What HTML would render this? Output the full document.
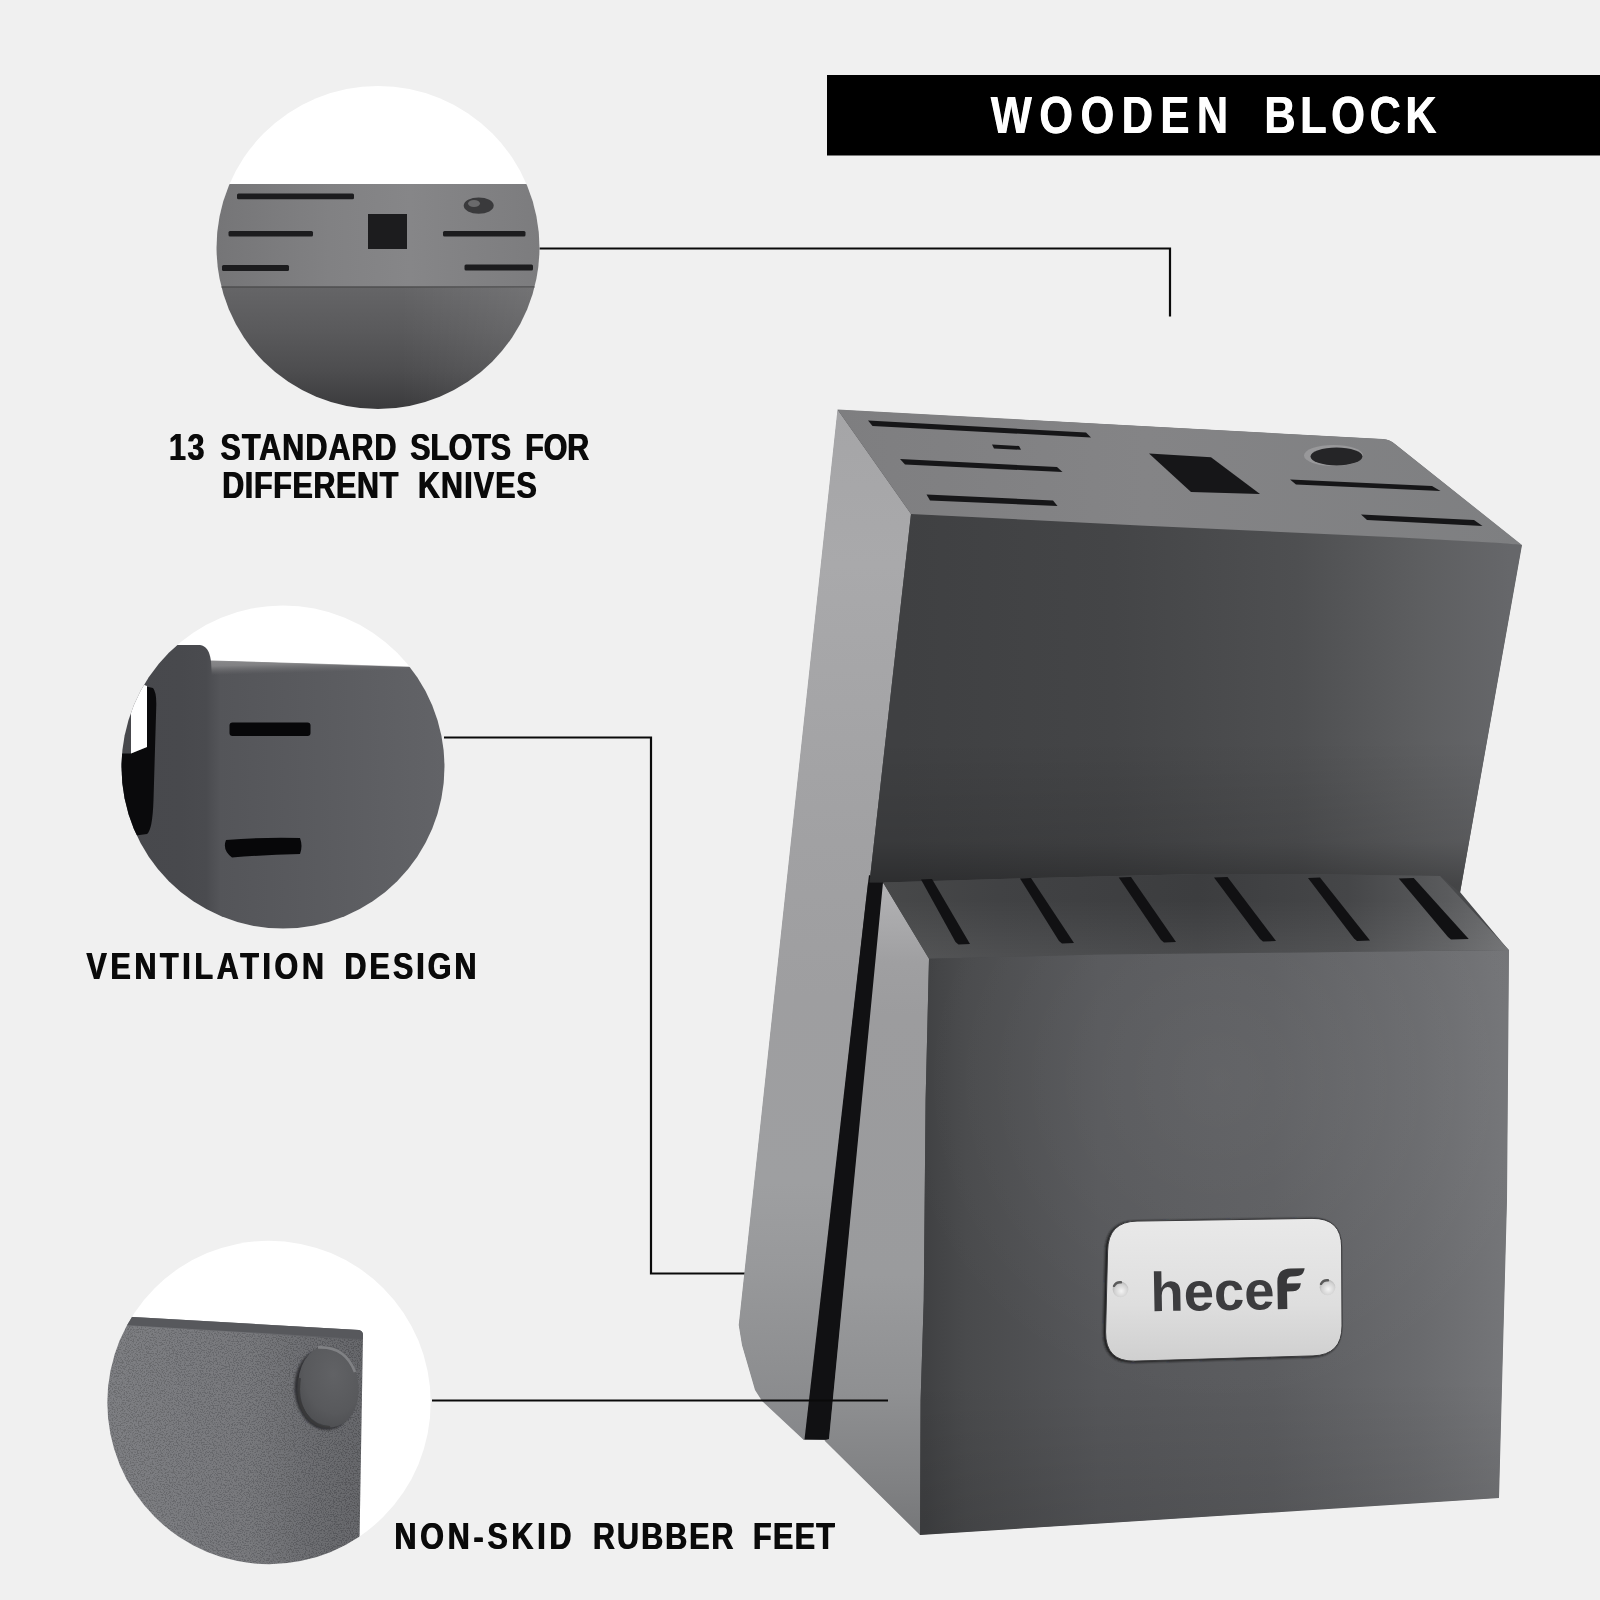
<!DOCTYPE html>
<html><head><meta charset="utf-8"><title>Wooden Block</title><style>html,body{margin:0;padding:0;background:#f0f0f0}body{width:1600px;height:1600px;overflow:hidden}</style></head><body>
<svg width="1600" height="1600" viewBox="0 0 1600 1600" style="display:block;font-family:'Liberation Sans',sans-serif;font-weight:bold">
<defs>
<linearGradient id="gLeft" gradientUnits="userSpaceOnUse" x1="0" y1="410" x2="0" y2="1440">
 <stop offset="0" stop-color="#a5a5a7"/><stop offset="0.15" stop-color="#a9a9ab"/><stop offset="0.42" stop-color="#a1a1a3"/><stop offset="0.57" stop-color="#9e9ea0"/><stop offset="0.75" stop-color="#9e9fa1"/><stop offset="0.83" stop-color="#98999b"/><stop offset="0.93" stop-color="#8e8f91"/><stop offset="1" stop-color="#86878a"/>
</linearGradient>
<linearGradient id="gLeftShade" gradientUnits="userSpaceOnUse" x1="810" y1="0" x2="912" y2="11">
 <stop offset="0" stop-color="#000" stop-opacity="0"/><stop offset="0.4" stop-color="#000" stop-opacity="0.02"/><stop offset="1" stop-color="#000" stop-opacity="0.2"/>
</linearGradient>
<linearGradient id="gFadeY" gradientUnits="userSpaceOnUse" x1="0" y1="410" x2="0" y2="900">
 <stop offset="0" stop-color="#fff"/><stop offset="0.3" stop-color="#fff" stop-opacity="0.85"/><stop offset="1" stop-color="#fff" stop-opacity="0"/>
</linearGradient>
<mask id="mFadeY" maskUnits="userSpaceOnUse" x="700" y="400" width="300" height="1100"><rect x="700" y="400" width="300" height="1100" fill="url(#gFadeY)"/></mask>
<linearGradient id="gTop" gradientUnits="userSpaceOnUse" x1="840" y1="0" x2="1520" y2="0">
 <stop offset="0" stop-color="#7e7e80"/><stop offset="0.45" stop-color="#848486"/><stop offset="1" stop-color="#7e7f81"/>
</linearGradient>
<linearGradient id="gFrontB" gradientUnits="userSpaceOnUse" x1="900" y1="0" x2="1510" y2="0">
 <stop offset="0" stop-color="#3f4042"/><stop offset="0.35" stop-color="#444547"/><stop offset="0.65" stop-color="#4e4f51"/><stop offset="0.85" stop-color="#5d5e60"/><stop offset="1" stop-color="#66676a"/>
</linearGradient>
<linearGradient id="gFrontBshade" gradientUnits="userSpaceOnUse" x1="0" y1="740" x2="0" y2="885">
 <stop offset="0" stop-color="#000" stop-opacity="0"/><stop offset="0.7" stop-color="#000" stop-opacity="0.1"/><stop offset="1" stop-color="#000" stop-opacity="0.3"/>
</linearGradient>
<linearGradient id="gTopF" gradientUnits="userSpaceOnUse" x1="885" y1="0" x2="1510" y2="0">
 <stop offset="0" stop-color="#474849"/><stop offset="0.18" stop-color="#414244"/><stop offset="0.5" stop-color="#3c3d3f"/><stop offset="0.74" stop-color="#454648"/><stop offset="0.9" stop-color="#5a5b5d"/><stop offset="1" stop-color="#6c6d6f"/>
</linearGradient>
<linearGradient id="gFrontF" gradientUnits="userSpaceOnUse" x1="925" y1="0" x2="1505" y2="0">
 <stop offset="0" stop-color="#404143"/><stop offset="0.07" stop-color="#494a4c"/><stop offset="0.3" stop-color="#555659"/><stop offset="0.6" stop-color="#5b5c5f"/><stop offset="0.85" stop-color="#696a6d"/><stop offset="1" stop-color="#747578"/>
</linearGradient>
<linearGradient id="gLeftF" gradientUnits="userSpaceOnUse" x1="0" y1="885" x2="0" y2="1535">
 <stop offset="0" stop-color="#b2b2b4"/><stop offset="0.06" stop-color="#a9a9ab"/><stop offset="0.12" stop-color="#9f9fa1"/><stop offset="0.2" stop-color="#9c9c9e"/><stop offset="0.6" stop-color="#9a9b9d"/><stop offset="0.78" stop-color="#8f9092"/><stop offset="0.92" stop-color="#808183"/><stop offset="1" stop-color="#767779"/>
</linearGradient>
<linearGradient id="gPlate" gradientUnits="userSpaceOnUse" x1="0" y1="1218" x2="0" y2="1362">
 <stop offset="0" stop-color="#e9e9e9"/><stop offset="0.6" stop-color="#dedede"/><stop offset="1" stop-color="#cfcfcf"/>
</linearGradient>
<clipPath id="c1"><circle cx="378" cy="247.5" r="161.5"/></clipPath>
<clipPath id="c2"><circle cx="283" cy="767" r="161.5"/></clipPath>
<clipPath id="c3"><circle cx="269" cy="1402.5" r="161.7"/></clipPath>
<linearGradient id="gC1front" gradientUnits="userSpaceOnUse" x1="0" y1="287" x2="0" y2="410">
 <stop offset="0" stop-color="#656567"/><stop offset="0.35" stop-color="#5a5a5c"/><stop offset="0.68" stop-color="#4d4d4f"/><stop offset="1" stop-color="#3a3a3c"/>
</linearGradient>
<radialGradient id="gFoot" cx="0.6" cy="0.35" r="0.8">
 <stop offset="0" stop-color="#616265"/><stop offset="0.6" stop-color="#58595c"/><stop offset="1" stop-color="#48494c"/>
</radialGradient>
<linearGradient id="gC3" gradientUnits="userSpaceOnUse" x1="110" y1="0" x2="362" y2="0">
 <stop offset="0" stop-color="#747579"/><stop offset="0.55" stop-color="#6e6f73"/><stop offset="0.8" stop-color="#626367"/><stop offset="1" stop-color="#5b5c60"/>
</linearGradient>
<radialGradient id="gFrontFhi" gradientUnits="userSpaceOnUse" cx="1220" cy="1080" r="330">
 <stop offset="0" stop-color="#fff" stop-opacity="0.06"/><stop offset="1" stop-color="#fff" stop-opacity="0"/>
</radialGradient>
<linearGradient id="gFrontFlo" gradientUnits="userSpaceOnUse" x1="0" y1="1380" x2="0" y2="1535">
 <stop offset="0" stop-color="#000" stop-opacity="0"/><stop offset="1" stop-color="#000" stop-opacity="0.1"/>
</linearGradient>
<linearGradient id="gTopFhi" gradientUnits="userSpaceOnUse" x1="0" y1="900" x2="0" y2="956">
 <stop offset="0" stop-color="#fff" stop-opacity="0"/><stop offset="1" stop-color="#fff" stop-opacity="0.07"/>
</linearGradient>
<filter id="fBlur1" x="-20%" y="-20%" width="140%" height="140%"><feGaussianBlur stdDeviation="1.2"/></filter>
<filter id="fBlur05" x="-20%" y="-20%" width="140%" height="140%"><feGaussianBlur stdDeviation="0.6"/></filter>
<filter id="fNoise" x="0" y="0" width="100%" height="100%"><feTurbulence type="fractalNoise" baseFrequency="0.75" numOctaves="2" seed="7" result="n"/><feColorMatrix in="n" type="matrix" values="5 0 0 0 -2  5 0 0 0 -2  5 0 0 0 -2  0 0 0 0 0.08"/></filter>
<clipPath id="c3body"><path d="M100 1324 L362.8 1340 L359 1570 L100 1570 Z"/></clipPath>
<radialGradient id="gScrew" cx="0.55" cy="0.6" r="0.6"><stop offset="0" stop-color="#f4f4f4"/><stop offset="0.7" stop-color="#d2d2d2"/><stop offset="1" stop-color="#b4b4b4"/></radialGradient>
<linearGradient id="gC2" gradientUnits="userSpaceOnUse" x1="110" y1="0" x2="460" y2="0">
 <stop offset="0" stop-color="#47484c"/><stop offset="0.2" stop-color="#48494d"/><stop offset="0.275" stop-color="#4a4b4f"/><stop offset="0.315" stop-color="#545559"/><stop offset="0.55" stop-color="#595a5e"/><stop offset="1" stop-color="#636468"/>
</linearGradient>
<linearGradient id="gLeftStrip" gradientUnits="userSpaceOnUse" x1="790" y1="850" x2="826" y2="853.9">
 <stop offset="0" stop-color="#000" stop-opacity="0.13"/><stop offset="0.5" stop-color="#000" stop-opacity="0.06"/><stop offset="1" stop-color="#000" stop-opacity="0"/>
</linearGradient>
<linearGradient id="gC2band" gradientUnits="userSpaceOnUse" x1="0" y1="663" x2="0.5" y2="681">
 <stop offset="0" stop-color="#8d8d8f"/><stop offset="0.5" stop-color="#868688" stop-opacity="0.9"/><stop offset="1" stop-color="#707073" stop-opacity="0"/>
</linearGradient>
<linearGradient id="gC1top" gradientUnits="userSpaceOnUse" x1="216" y1="0" x2="540" y2="0">
 <stop offset="0" stop-color="#757577"/><stop offset="0.35" stop-color="#818183"/><stop offset="0.6" stop-color="#868688"/><stop offset="1" stop-color="#7c7c7e"/>
</linearGradient>
<linearGradient id="gC1hi" gradientUnits="userSpaceOnUse" x1="400" y1="0" x2="545" y2="0">
 <stop offset="0" stop-color="#fff" stop-opacity="0"/><stop offset="1" stop-color="#fff" stop-opacity="0.1"/>
</linearGradient>
</defs>
<rect width="1600" height="1600" fill="#f0f0f0"/>

<rect x="827" y="75" width="773" height="80.5" fill="#000"/>
<g opacity="0.999" transform="translate(990.5,133) scale(0.83,1)"><text x="0" y="0" font-size="52.5" textLength="286.1" lengthAdjust="spacing" fill="#fff">WOODEN</text></g><g opacity="0.999" transform="translate(991.1,133) scale(0.83,1)"><text x="0" y="0" font-size="52.5" textLength="286.1" lengthAdjust="spacing" fill="#fff">WOODEN</text></g><g opacity="0.999" transform="translate(1264.0,133) scale(0.83,1)"><text x="0" y="0" font-size="52.5" textLength="207.8" lengthAdjust="spacing" fill="#fff">BLOCK</text></g><g opacity="0.999" transform="translate(1264.6,133) scale(0.83,1)"><text x="0" y="0" font-size="52.5" textLength="207.8" lengthAdjust="spacing" fill="#fff">BLOCK</text></g>
<g fill="none" stroke="#0a0a0a" stroke-width="2.2">
<path d="M539 248.5 H1170 V316.5"/>
<path d="M444 737.5 H651 V1273.5 H745"/>
</g>
<path d="M838 410 L1383 439.3 Q1390 439.7 1395 444.2 L1521.5 545.2 L1460 892 L1508.5 950 L1506.5 1200 L1498.5 1497.5 L920.3 1534.5 L825 1440 L804.5 1439.5 L762.5 1400.5 L755.5 1389.5 L742.5 1345 L739.3 1325 Z" fill="#48494b"/>
<path d="M837.5 409.5 L911 514 L869.5 882.5 L868 882.5 L806 1439 L803.75 1440 L762 1401 L755 1390 L742 1345 L738.75 1325 Z" fill="url(#gLeft)"/>
<path d="M866 900 L869 875 L884 882.5 L829 1439.5 L804.5 1439.5 Z" fill="#111113"/>
<path d="M911 514 L1140 525 L1400 537 L1500 542.5 L1522 545 L1460 893 L1440 876 L1300 874 L1200 874 L1000 879 L883 882.5 L869.5 882.5 Z" fill="url(#gFrontB)"/>
<path d="M911 514 L1140 525 L1400 537 L1500 542.5 L1522 545 L1460 893 L1440 876 L1300 874 L1200 874 L1000 879 L883 882.5 L869.5 882.5 Z" fill="url(#gFrontBshade)"/>
<path d="M837.5 409.5 L1383 439 Q1390 439.5 1395 444 L1522 545 L1500 543 L1400 537.5 L1140 525.5 L911 514 Z" fill="url(#gTop)"/>
<g fill="#161618">
<path d="M868 420.5 L1086 432.5 L1091 437.5 L872.5 426 Z"/>
<path d="M992 444.5 L1019 446 L1021 449.8 L994 448.5 Z"/>
<path d="M900 459 L1057 467 L1062.5 472 L905 464.5 Z"/>
<path d="M926.5 494.5 L1053 500.5 L1057.5 506 L930 500.5 Z"/>
<path d="M1149 453.5 L1211 457.3 L1260 494 L1191 492 Z"/>
<path d="M1290 479.5 L1432 486 L1440.5 491 L1296 484.5 Z"/>
<path d="M1361 514.5 L1474 520 L1482.5 526 L1367 520 Z"/>
</g>
<ellipse cx="1333.5" cy="455.5" rx="29.5" ry="10.5" fill="#98989a"/>
<ellipse cx="1336.5" cy="456.5" rx="26" ry="9" fill="#252527"/>
<path d="M883 882.5 L929 958.75 L925.6 1100 L923.75 1300 L920.6 1400 L920 1535 L824.4 1440.5 L829 1439 Z" fill="url(#gLeftF)"/>
<path d="M883 882.5 L1000 879 L1200 874 L1300 874 L1440 876 L1509 950 L1300 952.5 L1100 954.6 L929 958.75 Z" fill="url(#gTopF)"/>
<path d="M883 882.5 L1000 879 L1200 874 L1300 874 L1440 876 L1509 950 L1300 952.5 L1100 954.6 L929 958.75 Z" fill="url(#gTopFhi)"/>
<g fill="#111113">
<path d="M921 879.4 L932 879 L970 944 L958.5 944.5 L955.5 942 Z"/>
<path d="M1020 878.4 L1031 878 L1074 943 L1062 943.5 L1059 941 Z"/>
<path d="M1118.75 877.4 L1131 877 L1176 942 L1164 942.5 L1161 940 Z"/>
<path d="M1214 877.4 L1227.5 877 L1276 941 L1263 941.5 L1260 939 Z"/>
<path d="M1308 877.9 L1320 877.5 L1370 940.5 L1357 941.0 L1354 938.5 Z"/>
<path d="M1398.75 878.4 L1413.75 878 L1468.75 939 L1451 939.5 L1448 937 Z"/>
</g>
<path d="M929 958.75 L1100 954.6 L1300 952.5 L1509 950 L1507 1200 L1499 1498 L920 1535 L920.6 1400 L923.75 1300 L925.6 1100 Z" fill="url(#gFrontF)"/>
<path d="M929 958.75 L1100 954.6 L1300 952.5 L1509 950 L1507 1200 L1499 1498 L920 1535 L920.6 1400 L923.75 1300 L925.6 1100 Z" fill="url(#gFrontFhi)"/>
<path d="M929 958.75 L1100 954.6 L1300 952.5 L1509 950 L1507 1200 L1499 1498 L920 1535 L920.6 1400 L923.75 1300 L925.6 1100 Z" fill="url(#gFrontFlo)"/>
<path d="M432 1400.5 H888" fill="none" stroke="#0a0a0a" stroke-width="2.2"/>
<path d="M1137 1221.1 L1312 1218.4 Q1341.5 1218 1341.6 1247 L1342 1326 Q1342 1355 1313 1355.9 L1135 1361.1 Q1105.3 1362 1105.6 1332 L1107.6 1251 Q1108 1221.5 1137 1221.1 Z" transform="translate(-1.6,0.6)" fill="#1c1d1f" stroke="#1c1d1f" stroke-width="1.5" filter="url(#fBlur1)"/>
<path d="M1137 1221.1 L1312 1218.4 Q1341.5 1218 1341.6 1247 L1342 1326 Q1342 1355 1313 1355.9 L1135 1361.1 Q1105.3 1362 1105.6 1332 L1107.6 1251 Q1108 1221.5 1137 1221.1 Z" fill="url(#gPlate)" stroke="#3a3a3c" stroke-width="1"/>
<circle cx="1120.5" cy="1289.5" r="7.8" fill="url(#gScrew)"/><path d="M1114 1286 A7 7 0 0 1 1121 1282.3" fill="none" stroke="#5a5a5a" stroke-width="2.4" stroke-linecap="round" filter="url(#fBlur05)"/>
<circle cx="1327.5" cy="1287.5" r="7.8" fill="url(#gScrew)"/><path d="M1321 1284 A7 7 0 0 1 1328 1280.3" fill="none" stroke="#5a5a5a" stroke-width="2.4" stroke-linecap="round" filter="url(#fBlur05)"/>
<g opacity="0.999" transform="rotate(-1 1228 1290)"><text x="1150.5" y="1310" font-size="55" fill="#3c3c3e" textLength="124" lengthAdjust="spacingAndGlyphs">hece</text><path d="M1277.5 1310 L1277.5 1283 Q1277.5 1269.5 1291 1269.5 L1305 1269.5 Q1304 1277.5 1296 1277.5 L1292 1277.5 Q1287 1277.5 1287 1283 L1287 1284.5 L1301 1284.5 Q1300 1292.5 1293 1292.5 L1287 1292.5 L1287 1310 Z" fill="#38383a"/></g>
<g clip-path="url(#c1)">
<rect x="200" y="70" width="360" height="360" fill="#fff"/>
<rect x="200" y="184" width="360" height="104" fill="url(#gC1top)"/>
<rect x="200" y="287" width="360" height="140" fill="url(#gC1front)"/>
<rect x="200" y="286.3" width="360" height="1.4" fill="#4c4c4e"/>
<rect x="200" y="287" width="360" height="140" fill="url(#gC1hi)"/>
<g fill="#1c1c1e">
<rect x="237" y="193.5" width="117" height="5.8" rx="1.5"/>
<rect x="228.5" y="231" width="84.5" height="5.6" rx="1.5"/>
<rect x="222" y="265" width="67" height="6" rx="1.5"/>
<rect x="368" y="214" width="39" height="35"/>
<rect x="443" y="231" width="82.5" height="5.6" rx="1.5"/>
<rect x="464.5" y="264.5" width="68.5" height="6" rx="1.5"/>
</g>
<ellipse cx="478.7" cy="205.6" rx="15" ry="8.2" fill="#3a3a3c"/><ellipse cx="474" cy="203.5" rx="6" ry="3.5" fill="#6a6a6c"/>
</g>
<g clip-path="url(#c2)">
<rect x="110" y="595" width="350" height="345" fill="#fff"/>
<path d="M110 700 L176 645 L200 645 Q209 646 211 661 L460 668.5 L460 940 L110 940 Z" fill="url(#gC2)"/>
<path d="M211 660.5 L460 668 L460 686 L212 679 Z" fill="url(#gC2band)"/>
<path d="M146 686.5 L153 688 Q156.5 692 156.3 705 L153.5 800 Q152.5 830 147 834 L118 838 L118 753.5 L131 753.5 L147 747 Z" fill="#0a0a0c"/>
<path d="M131 680 L147 686 L147 747 L131 753.5 Z" fill="#fff"/>
<rect x="229.5" y="722.5" width="81" height="13.5" rx="3" fill="#070709"/>
<path d="M226 840 Q262 837 300 838 Q303 846 300 854 Q262 855 232 857.5 Q222 850 226 840 Z" fill="#070709"/>
</g>
<g clip-path="url(#c3)">
<rect x="100" y="1235" width="340" height="335" fill="#fff"/>
<path d="M100 1315 L359 1330 Q363 1331 363 1335 L359 1570 L100 1570 Z" fill="url(#gC3)"/>
<path d="M100 1315 L359 1330 Q363 1331 363 1335 L362.8 1339 L100 1323.5 Z" fill="#57585c"/>
<rect x="100" y="1235" width="340" height="335" filter="url(#fNoise)" clip-path="url(#c3body)"/>
<ellipse cx="325" cy="1389.5" rx="30.5" ry="40.5" transform="rotate(-5 325 1389.5)" fill="#2e2f32" filter="url(#fBlur1)"/>
<ellipse cx="328.5" cy="1386.8" rx="30.2" ry="40.8" transform="rotate(-5 328.5 1386.8)" fill="url(#gFoot)"/>
<path d="M318 1347.5 Q345 1346 355 1372" fill="none" stroke="#8a8b8e" stroke-width="2.6" opacity="0.8" filter="url(#fBlur05)"/>
<path d="M299.5 1378 Q296 1400 306 1415 Q315 1427 330 1427.5" fill="none" stroke="#3a3b3e" stroke-width="3" opacity="0.85" filter="url(#fBlur05)"/>
</g>
<g opacity="0.999" transform="translate(168.6,460) scale(0.81,1)"><text x="0" y="0" font-size="37.5" textLength="43.7" lengthAdjust="spacing" fill="#0a0a0a">13</text></g><g opacity="0.999" transform="translate(169.6,460) scale(0.81,1)"><text x="0" y="0" font-size="37.5" textLength="43.7" lengthAdjust="spacing" fill="#0a0a0a">13</text></g><g opacity="0.999" transform="translate(220.0,460) scale(0.81,1)"><text x="0" y="0" font-size="37.5" textLength="217.3" lengthAdjust="spacing" fill="#0a0a0a">STANDARD</text></g><g opacity="0.999" transform="translate(221.0,460) scale(0.81,1)"><text x="0" y="0" font-size="37.5" textLength="217.3" lengthAdjust="spacing" fill="#0a0a0a">STANDARD</text></g><g opacity="0.999" transform="translate(409.8,460) scale(0.81,1)"><text x="0" y="0" font-size="37.5" textLength="124.3" lengthAdjust="spacing" fill="#0a0a0a">SLOTS</text></g><g opacity="0.999" transform="translate(410.8,460) scale(0.81,1)"><text x="0" y="0" font-size="37.5" textLength="124.3" lengthAdjust="spacing" fill="#0a0a0a">SLOTS</text></g><g opacity="0.999" transform="translate(524.8,460) scale(0.81,1)"><text x="0" y="0" font-size="37.5" textLength="78.8" lengthAdjust="spacing" fill="#0a0a0a">FOR</text></g><g opacity="0.999" transform="translate(525.8,460) scale(0.81,1)"><text x="0" y="0" font-size="37.5" textLength="78.8" lengthAdjust="spacing" fill="#0a0a0a">FOR</text></g>
<g opacity="0.999" transform="translate(221.7,498) scale(0.81,1)"><text x="0" y="0" font-size="37.5" textLength="217.3" lengthAdjust="spacing" fill="#0a0a0a">DIFFERENT</text></g><g opacity="0.999" transform="translate(222.7,498) scale(0.81,1)"><text x="0" y="0" font-size="37.5" textLength="217.3" lengthAdjust="spacing" fill="#0a0a0a">DIFFERENT</text></g><g opacity="0.999" transform="translate(417.5,498) scale(0.81,1)"><text x="0" y="0" font-size="37.5" textLength="146.7" lengthAdjust="spacing" fill="#0a0a0a">KNIVES</text></g><g opacity="0.999" transform="translate(418.5,498) scale(0.81,1)"><text x="0" y="0" font-size="37.5" textLength="146.7" lengthAdjust="spacing" fill="#0a0a0a">KNIVES</text></g>
<g opacity="0.999" transform="translate(86.0,979) scale(0.81,1)"><text x="0" y="0" font-size="37.5" textLength="293.1" lengthAdjust="spacing" fill="#0a0a0a">VENTILATION</text></g><g opacity="0.999" transform="translate(87.0,979) scale(0.81,1)"><text x="0" y="0" font-size="37.5" textLength="293.1" lengthAdjust="spacing" fill="#0a0a0a">VENTILATION</text></g><g opacity="0.999" transform="translate(344.0,979) scale(0.81,1)"><text x="0" y="0" font-size="37.5" textLength="163.0" lengthAdjust="spacing" fill="#0a0a0a">DESIGN</text></g><g opacity="0.999" transform="translate(345.0,979) scale(0.81,1)"><text x="0" y="0" font-size="37.5" textLength="163.0" lengthAdjust="spacing" fill="#0a0a0a">DESIGN</text></g>
<g opacity="0.999" transform="translate(394.0,1549) scale(0.81,1)"><text x="0" y="0" font-size="37.5" textLength="218.5" lengthAdjust="spacing" fill="#0a0a0a">NON-SKID</text></g><g opacity="0.999" transform="translate(395.0,1549) scale(0.81,1)"><text x="0" y="0" font-size="37.5" textLength="218.5" lengthAdjust="spacing" fill="#0a0a0a">NON-SKID</text></g><g opacity="0.999" transform="translate(592.6,1549) scale(0.81,1)"><text x="0" y="0" font-size="37.5" textLength="173.3" lengthAdjust="spacing" fill="#0a0a0a">RUBBER</text></g><g opacity="0.999" transform="translate(593.6,1549) scale(0.81,1)"><text x="0" y="0" font-size="37.5" textLength="173.3" lengthAdjust="spacing" fill="#0a0a0a">RUBBER</text></g><g opacity="0.999" transform="translate(752.5,1549) scale(0.81,1)"><text x="0" y="0" font-size="37.5" textLength="101.1" lengthAdjust="spacing" fill="#0a0a0a">FEET</text></g><g opacity="0.999" transform="translate(753.5,1549) scale(0.81,1)"><text x="0" y="0" font-size="37.5" textLength="101.1" lengthAdjust="spacing" fill="#0a0a0a">FEET</text></g>
</svg>
</body></html>
